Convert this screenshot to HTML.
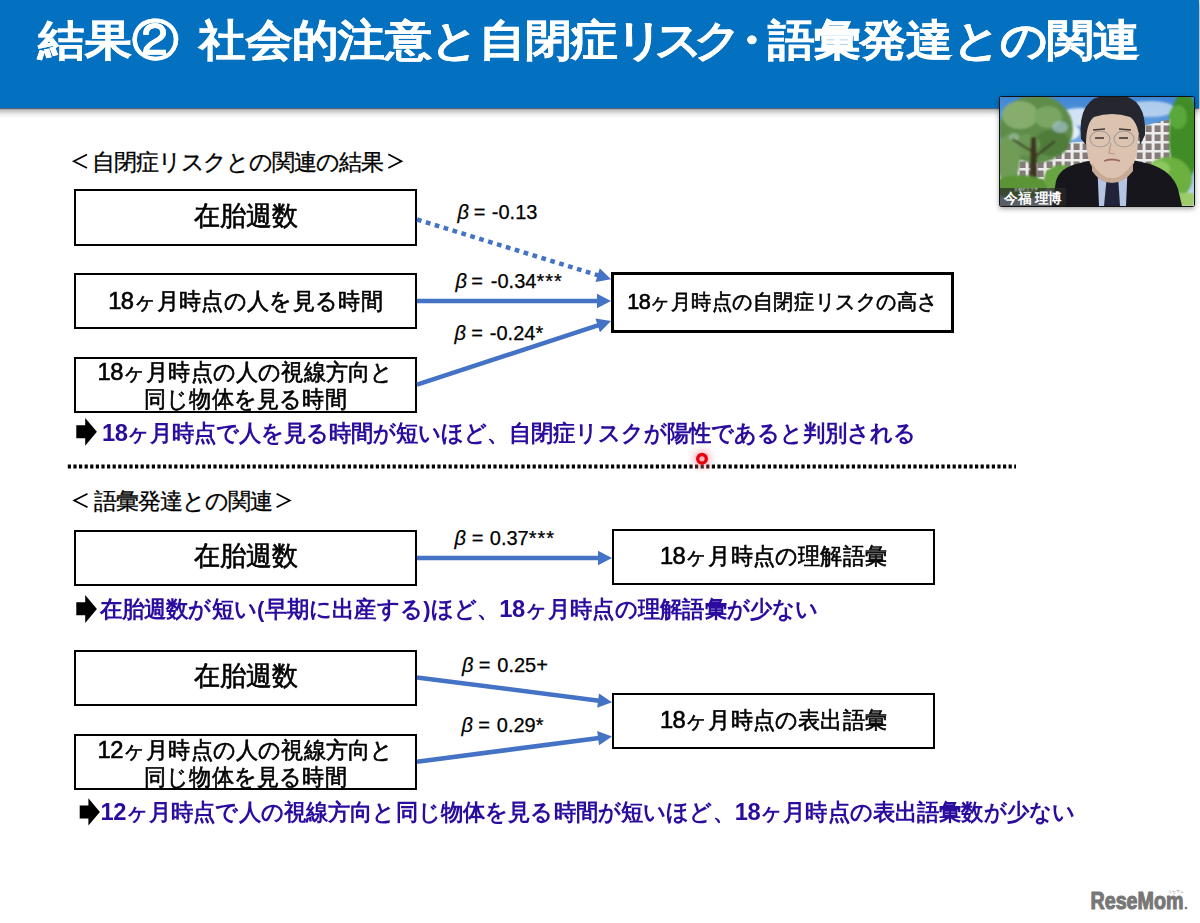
<!DOCTYPE html>
<html lang="ja">
<head>
<meta charset="utf-8">
<style>
html,body{margin:0;padding:0;}
body{width:1200px;height:923px;position:relative;overflow:hidden;background:#fff;font-family:"Liberation Sans",sans-serif;color:#000;}
.a{position:absolute;white-space:nowrap;}
#hdr{left:-10px;top:0;width:1209px;height:108px;background:#0370C0;box-shadow:0 1px 1px rgba(0,30,70,0.5),0 3px 7px rgba(0,0,0,0.42);}
.ttl{top:12.8px;font-size:47px;font-weight:bold;color:#fff;line-height:60px;-webkit-text-stroke:0.5px #fff;transform:scaleY(0.92);transform-origin:0 0;}
.box{position:absolute;box-sizing:border-box;border:2px solid #000;background:#fff;display:flex;align-items:center;justify-content:center;text-align:center;font-weight:500;}
.sec{font-size:23px;line-height:26px;-webkit-text-stroke:0.3px #000;}
.concl{color:#2B0C9E;font-weight:bold;line-height:26px;transform:scaleY(1.03);transform-origin:0 0;}
.beta{font-size:20px;line-height:20px;-webkit-text-stroke:0.25px #000;}
.d{font-size:1.08em;letter-spacing:-0.5px;}
.med{-webkit-text-stroke:0.6px #000;}
.box>div{transform:scaleY(1.04);}
.beta i{font-style:italic;}
</style>
</head>
<body>
<div id="hdr" class="a"></div>
<div class="a ttl" style="left:37.5px;">結果②</div>
<div class="a ttl" style="left:199.3px;letter-spacing:-0.6px;">社会的注意と自閉症</div>
<div class="a ttl" style="left:616px;letter-spacing:-9px;">リスク</div>
<div class="a ttl" style="left:727.5px;">・</div>
<div class="a ttl" style="left:768px;letter-spacing:-0.85px;">語彙発達との関連</div>

<div class="a sec" style="left:92px;top:148.5px;letter-spacing:-1.11px;">自閉症リスクとの関連の結果</div>

<div class="box med" style="left:74px;top:189px;width:343px;height:57px;font-size:26px;padding-bottom:2px;"><div>在胎週数</div></div>
<div class="box med" style="left:74px;top:273px;width:343px;height:56px;font-size:22px;letter-spacing:0.3px;padding-top:2px;"><div><span class="d">18</span>ヶ月時点の人を見る時間</div></div>
<div class="box med" style="left:74px;top:357px;width:343px;height:56px;font-size:22px;letter-spacing:0.2px;line-height:26px;"><div><span class="d">18</span>ヶ月時点の人の視線方向と<br>同じ物体を見る時間</div></div>
<div class="box med" style="left:611px;top:272px;width:343px;height:61px;border-width:3px;font-size:20px;letter-spacing:0.55px;"><div><span class="d">18</span>ヶ月時点の自閉症リスクの高さ</div></div>

<div class="a beta" style="left:457.5px;top:202px;"><i>β</i></div><div class="a beta" style="left:473.8px;top:202px;">=</div><div class="a beta" style="left:491.8px;top:202px;">-0.13</div>
<div class="a beta" style="left:455.5px;top:271.4px;"><i>β</i></div><div class="a beta" style="left:471.3px;top:271.4px;">=</div><div class="a beta" style="left:490.8px;top:271.4px;">-0.34<span style="letter-spacing:1px">***</span></div>
<div class="a beta" style="left:454.5px;top:323.4px;"><i>β</i></div><div class="a beta" style="left:471.3px;top:323.4px;">=</div><div class="a beta" style="left:489.8px;top:323.4px;">-0.24*</div>

<div class="a concl" style="left:102px;top:418.5px;font-size:22px;letter-spacing:0px;"><span class="d">18</span>ヶ月時点で人を見る時間が短いほど、自閉症リスクが陽性であると判別される</div>

<div class="a sec" style="left:93.8px;top:487.5px;letter-spacing:-1.01px;">語彙発達との関連</div>
<div class="box med" style="left:74px;top:530px;width:343px;height:56px;font-size:26px;padding-bottom:3px;"><div>在胎週数</div></div>
<div class="box med" style="left:612px;top:529px;width:323px;height:56px;font-size:22px;letter-spacing:0.2px;"><div><span class="d">18</span>ヶ月時点の理解語彙</div></div>
<div class="a beta" style="left:454.5px;top:528px;"><i>β</i></div><div class="a beta" style="left:471.8px;top:528px;">=</div><div class="a beta" style="left:489.8px;top:528px;">0.37<span style="letter-spacing:1px">***</span></div>
<div class="a concl" style="left:99.5px;top:594.5px;font-size:22px;letter-spacing:0.22px;">在胎週数が短い(早期に出産する)ほど、<span class="d">18</span>ヶ月時点の理解語彙が少ない</div>

<div class="box med" style="left:74px;top:650px;width:343px;height:56px;font-size:26px;padding-bottom:3px;"><div>在胎週数</div></div>
<div class="box med" style="left:74px;top:734px;width:343px;height:56px;font-size:22px;letter-spacing:0.2px;line-height:26px;padding-top:2.5px;"><div><span class="d">12</span>ヶ月時点の人の視線方向と<br>同じ物体を見る時間</div></div>
<div class="box med" style="left:612px;top:693px;width:323px;height:56px;font-size:22px;letter-spacing:0.2px;"><div><span class="d">18</span>ヶ月時点の表出語彙</div></div>
<div class="a beta" style="left:462px;top:655px;"><i>β</i></div><div class="a beta" style="left:478.8px;top:655px;">=</div><div class="a beta" style="left:497.3px;top:655px;">0.25+</div>
<div class="a beta" style="left:461.5px;top:715.4px;"><i>β</i></div><div class="a beta" style="left:478.3px;top:715.4px;">=</div><div class="a beta" style="left:496.8px;top:715.4px;">0.29*</div>
<div class="a concl" style="left:100.5px;top:797.5px;font-size:22px;letter-spacing:0.14px;"><span class="d">12</span>ヶ月時点で人の視線方向と同じ物体を見る時間が短いほど、<span class="d">18</span>ヶ月時点の表出語彙数が少ない</div>

<svg class="a" style="left:0;top:0" width="1200" height="923" viewBox="0 0 1200 923">
<g>
<line x1="417" y1="219.5" x2="598.58" y2="275.47" stroke="#4472C4" stroke-width="4.5" stroke-dasharray="4.7 4.6"/><polygon fill="#4472C4" points="611.00,279.30 595.50,282.06 599.74,268.30"/>
<line x1="417" y1="301" x2="598.00" y2="301.00" stroke="#4472C4" stroke-width="4.5"/><polygon fill="#4472C4" points="611.00,301.00 597.00,308.20 597.00,293.80"/>
<line x1="417" y1="384.6" x2="598.65" y2="325.05" stroke="#4472C4" stroke-width="4.5"/><polygon fill="#4472C4" points="611.00,321.00 599.94,332.20 595.45,318.52"/>
<line x1="417" y1="558" x2="599.00" y2="558.00" stroke="#4472C4" stroke-width="4.5"/><polygon fill="#4472C4" points="612.00,558.00 598.00,565.20 598.00,550.80"/>
<line x1="417" y1="677.5" x2="599.10" y2="700.66" stroke="#4472C4" stroke-width="4.5"/><polygon fill="#4472C4" points="612.00,702.30 597.20,707.68 599.02,693.39"/>
<line x1="417" y1="761.7" x2="599.11" y2="738.07" stroke="#4472C4" stroke-width="4.5"/><polygon fill="#4472C4" points="612.00,736.40 599.04,745.34 597.19,731.06"/>
</g>
<polyline points="87,154.5 73.8,161.3 87,168" fill="none" stroke="#000" stroke-width="1.7"/>
<polyline points="388.3,154.3 401.5,161.2 388.3,168" fill="none" stroke="#000" stroke-width="1.7"/>
<polyline points="87.5,493.7 74.2,500.5 87.5,507.3" fill="none" stroke="#000" stroke-width="1.7"/>
<polyline points="276.6,493.7 289.8,500.5 276.6,507.3" fill="none" stroke="#000" stroke-width="1.7"/>
<line x1="67.8" y1="466.5" x2="1016" y2="466.5" stroke="#000" stroke-width="3.8" stroke-dasharray="3.2 2.4"/>
<polygon fill="#000" points="76.3,425.2 85.2,425.2 85.2,418.1 96.9,431.7 85.2,445.8 85.2,438.2 76.3,438.2"/>
<polygon fill="#000" points="76.3,602.3 85.2,602.3 85.2,595 96.9,609.1 85.2,623.1 85.2,615.3 76.3,615.3"/>
<polygon fill="#000" points="79.7,805.6 88.4,805.6 88.4,798.2 99.9,811.9 88.4,825.5 88.4,818.4 79.7,818.4"/>
<defs><radialGradient id="glow"><stop offset="0" stop-color="#ff6070" stop-opacity="0.55"/><stop offset="0.5" stop-color="#ff8090" stop-opacity="0.3"/><stop offset="1" stop-color="#ffb0c0" stop-opacity="0"/></radialGradient></defs>
<circle cx="702" cy="459" r="15" fill="url(#glow)"/>
<circle cx="702" cy="458.8" r="4.3" fill="none" stroke="#e8000a" stroke-width="3.4"/>
</svg>


<div class="a" style="left:999px;top:96px;width:196px;height:111px;box-shadow:0 2px 5px rgba(0,0,0,0.35);border-radius:3px;background:#111;"></div>
<svg class="a" style="left:1000px;top:97px" width="194" height="109" viewBox="0 0 194 109">
<defs>
<linearGradient id="sky" x1="0" y1="0" x2="0" y2="1"><stop offset="0" stop-color="#3f86d6"/><stop offset="0.6" stop-color="#8ab8e8"/><stop offset="1" stop-color="#cfe0f2"/></linearGradient>
<filter id="bl" x="-20%" y="-20%" width="140%" height="140%"><feGaussianBlur stdDeviation="1.2"/></filter>
<filter id="bl2" x="-20%" y="-20%" width="140%" height="140%"><feGaussianBlur stdDeviation="0.6"/></filter>
<pattern id="win" width="9" height="9" patternUnits="userSpaceOnUse"><rect width="9" height="9" fill="#ececec"/><rect x="1.6" y="1.5" width="6" height="6.5" fill="#857c7a"/></pattern>
<clipPath id="cc"><rect width="194" height="109"/></clipPath>
</defs>
<g clip-path="url(#cc)">
<rect width="194" height="109" fill="url(#sky)"/>
<g filter="url(#bl)">
<ellipse cx="80" cy="20" rx="22" ry="9" fill="#e8f0fa" opacity="0.85"/>
<ellipse cx="65" cy="35" rx="15" ry="9" fill="#f2f6fb" opacity="0.9"/>
<ellipse cx="150" cy="12" rx="25" ry="8" fill="#dbe8f6" opacity="0.7"/>
</g>
<polygon points="0,50 95,44 95,82 0,88" fill="url(#win)" filter="url(#bl2)"/>
<polygon points="132,32 178,20 178,70 132,72" fill="url(#win)" filter="url(#bl2)"/>
<g filter="url(#bl)">
<ellipse cx="36" cy="32" rx="37" ry="34" fill="#5e8c48"/>
<ellipse cx="20" cy="18" rx="18" ry="14" fill="#86ad6e"/>
<ellipse cx="48" cy="20" rx="14" ry="11" fill="#7aa562"/>
<ellipse cx="52" cy="46" rx="17" ry="13" fill="#4f7c3a"/>
<ellipse cx="26" cy="48" rx="14" ry="11" fill="#6a9752"/>
<ellipse cx="8" cy="62" rx="12" ry="24" fill="#6f9c58"/>
<ellipse cx="60" cy="30" rx="8" ry="6" fill="#a9c8e0" opacity="0.6"/>
<ellipse cx="14" cy="40" rx="5" ry="4" fill="#b8d0c8" opacity="0.5"/>
<path d="M31,40 L36,40 L38,100 L29,100 Z" fill="#3b3424"/>
<path d="M33,55 L12,42 M35,60 L55,44" stroke="#3b3424" stroke-width="2"/>
<ellipse cx="20" cy="90" rx="28" ry="12" fill="#5a9436"/>
<ellipse cx="62" cy="82" rx="18" ry="14" fill="#68a441"/>
<ellipse cx="184" cy="40" rx="15" ry="45" fill="#3f8c25"/>
<ellipse cx="178" cy="20" rx="9" ry="12" fill="#5aa83a"/>
<ellipse cx="168" cy="82" rx="24" ry="22" fill="#6cb040"/>
<ellipse cx="160" cy="72" rx="10" ry="8" fill="#8cc860"/>
<rect x="170" y="96" width="24" height="13" fill="#9ccb68"/>
</g>
<g filter="url(#bl2)">
<path d="M52,109 L56,84 Q60,70 80,66 L97,62 L112,78 L128,62 L150,67 Q172,74 178,92 L182,109 Z" fill="#15151f"/>
<path d="M97,62 L112,78 L128,62 L126,109 L99,109 Z" fill="#b4c4e2"/>
<path d="M107,78 L118,78 L120,109 L104,109 Z" fill="#20243a"/>
<path d="M86,16 L138,16 L138,44 Q137,80 112,82 Q87,80 86,44 Z" fill="#dcc3b0"/>
<path d="M92,66 Q100,80 112,82 Q124,80 133,66 L133,74 Q124,86 112,86 Q100,86 92,74 Z" fill="#c7a995"/>
<path d="M81,42 Q77,0 108,-2 L118,-2 Q147,0 145,38 L140,48 Q139,26 130,20 Q112,14 94,20 Q86,26 86,48 Z" fill="#26282f"/>
<ellipse cx="100" cy="42" rx="10" ry="8" fill="none" stroke="#a09a98" stroke-width="1.1"/>
<ellipse cx="124" cy="42" rx="10" ry="8" fill="none" stroke="#a09a98" stroke-width="1.1"/>
<path d="M95,41 L104,41 M119,41 L128,41" stroke="#3a3030" stroke-width="1.6"/>
<path d="M93,33 L105,32 M119,32 L131,33" stroke="#4a3a38" stroke-width="1.4"/>
<path d="M111,46 L109,56 L115,57" stroke="#b8988a" stroke-width="1.2" fill="none"/>
<path d="M104,64 Q112,61 120,64" stroke="#9a6a60" stroke-width="1.8" fill="none"/>
</g>
<rect x="0" y="91" width="66" height="18" fill="#2a2a2a" opacity="0.7"/>
<text x="4" y="105.5" font-family="Liberation Sans, sans-serif" font-size="14" font-weight="bold" fill="#fff" textLength="58" lengthAdjust="spacingAndGlyphs">今福 理博</text>
<text x="14" y="93.5" font-family="Liberation Sans, sans-serif" font-size="3.5" fill="#ddd">京都府立大学</text>
</g>
</svg>
<svg class="a" style="left:1088px;top:888px" width="102" height="26" viewBox="0 0 102 26">
<text x="2.5" y="21" font-family="Liberation Sans, sans-serif" font-weight="bold" font-size="24" fill="#777" stroke="#777" stroke-width="1.1" stroke-linejoin="round" textLength="93" lengthAdjust="spacingAndGlyphs">ReseMom</text><text x="80" y="4.5" font-family="Liberation Sans, sans-serif" font-size="4" fill="#888">リセマム</text>
<circle cx="98" cy="20" r="1.3" fill="#7a7a7a"/>
</svg>
</body>
</html>
